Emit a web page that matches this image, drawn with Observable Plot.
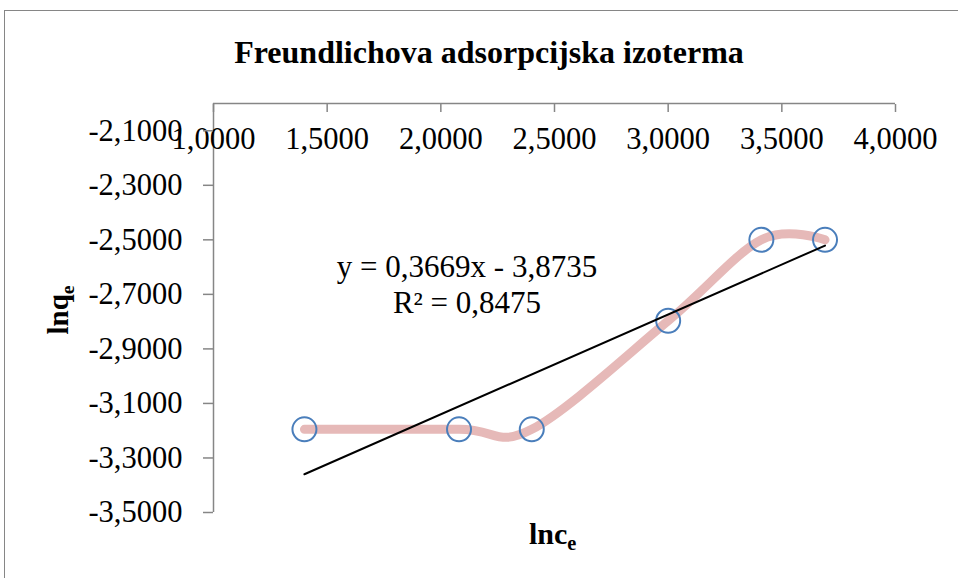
<!DOCTYPE html>
<html>
<head>
<meta charset="utf-8">
<script src="https://cdn.jsdelivr.net/npm/d3@7"></script>
<script src="https://cdn.jsdelivr.net/npm/@observablehq/plot@0.6"></script>
<style>
  html, body { margin: 0; padding: 0; background: #fff; }
  #wrap { position: relative; width: 958px; height: 578px; overflow: hidden;
          font-family: "Liberation Serif", "Times New Roman", serif; color: #000; }
  #border { position: absolute; left: 4px; top: 10px; width: 2000px; height: 2000px;
            border: 1px solid #868686; box-sizing: border-box; }
  #chart { position: absolute; left: 0; top: 0; }
  .t { position: absolute; white-space: nowrap; line-height: 1; }
  #title { left: 0; width: 978px; text-align: center; top: 36px; font-size: 32px; font-weight: bold; }
  .eq { left: 267px; width: 400px; text-align: center; font-size: 31px; }
  #xlab { left: 529px; top: 519px; font-size: 30px; font-weight: bold; }
  #ylab { left: 58px; top: 310px; font-size: 29px; font-weight: bold;
          transform: translate(-50%, -50%) rotate(-90deg); }
  sub { font-size: 0.68em; vertical-align: baseline; position: relative; top: 0.3em; }
</style>
</head>
<body>
<div id="wrap">
  <div id="border"></div>
  <div id="chart"></div>
  <div class="t" id="title">Freundlichova adsorpcijska izoterma</div>
  <div class="t eq" id="eq1">y = 0,3669x - 3,8735</div>
  <div class="t eq" id="eq2">R² = 0,8475</div>
  <div class="t" id="xlab">lnc<sub>e</sub></div>
  <div class="t" id="ylab">lnq<sub>e</sub></div>
</div>
<script>
// Data
const lnc = [1.40, 2.08, 2.40, 3.00, 3.41, 3.69];
const lnq = [-3.195, -3.195, -3.195, -2.797, -2.50, -2.50];

// Axis domains and tick values
const xDomain = [1.0, 4.0];
const yDomain = [-3.5, -2.0];
const xTicks = [1.0, 1.5, 2.0, 2.5, 3.0, 3.5, 4.0];
const yTicks = [-3.5, -3.3, -3.1, -2.9, -2.7, -2.5, -2.3, -2.1];

const data = lnc.map((x, i) => ({x, y: lnq[i]}));
const fmt = d => d.toFixed(4).replace(".", ",");
const axisGray = "#868686";

const chart = Plot.plot({
  width: 958,
  height: 578,
  marginTop: 103,
  marginLeft: 213,
  marginRight: 63,
  marginBottom: 66,
  style: {fontFamily: "'Liberation Serif', 'Times New Roman', serif", fontSize: "30.5px", background: "transparent", color: "#000"},
  x: {domain: xDomain, label: null},
  y: {domain: yDomain, label: null},
  marks: [
    Plot.ruleY([yDomain[1]], {stroke: axisGray, strokeWidth: 1.5}),
    Plot.ruleX([xDomain[0]], {stroke: axisGray, strokeWidth: 1.5}),
    Plot.axisX(xTicks, {anchor: "top", tickSize: -8, text: null, stroke: axisGray, strokeWidth: 1.5, label: null}),
    Plot.axisX(xTicks, {anchor: "top", tickSize: 0, tickPadding: -36, lineAnchor: "middle", tickFormat: fmt, fill: "#000", label: null}),
    Plot.axisY(yTicks, {anchor: "left", tickSize: 10, tickPadding: 21, tickFormat: fmt, stroke: axisGray, strokeWidth: 1.5, fill: "#000", label: null}),
    Plot.line(data, {x: "x", y: "y", curve: "cardinal", stroke: "#e6b9b8", strokeWidth: 9, strokeLinecap: "round", strokeLinejoin: "round"}),
    Plot.dot(data, {x: "x", y: "y", r: 12, stroke: "#4a7ebb", strokeWidth: 2, fill: "none"}),
    Plot.linearRegressionY(data, {x: "x", y: "y", ci: 0, stroke: "#000", strokeWidth: 2})
  ]
});
document.getElementById("chart").appendChild(chart);
document.getElementById("eq1").style.top = "251px";
document.getElementById("eq2").style.top = "287px";
</script>
</body>
</html>
